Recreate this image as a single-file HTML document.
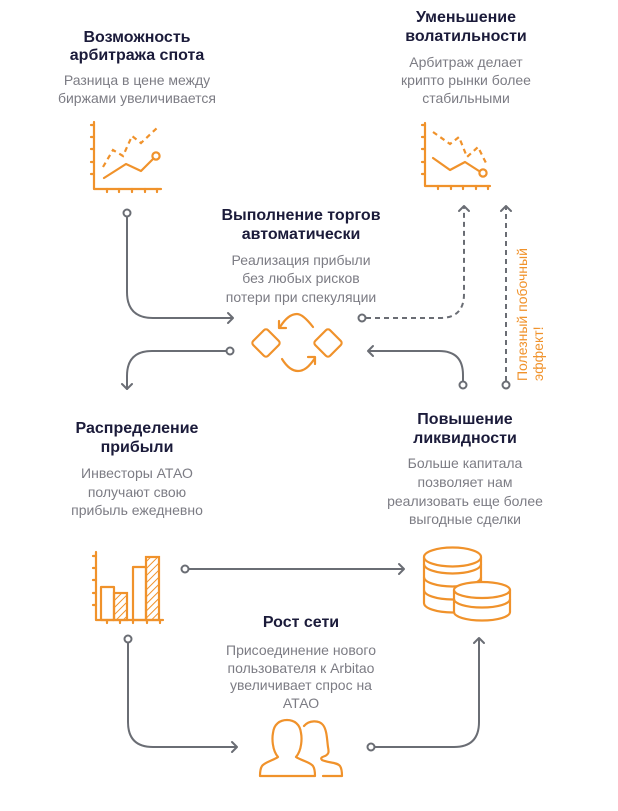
<!DOCTYPE html>
<html>
<head>
<meta charset="utf-8">
<style>
html,body{margin:0;padding:0;background:#fff;}
svg{display:block;}
.t{font-family:"Liberation Sans","Noto Sans CJK SC",sans-serif;font-weight:bold;font-size:16px;fill:#1b1b3a;text-anchor:middle;}
.s{font-family:"Liberation Sans","Noto Sans CJK SC",sans-serif;font-size:14px;fill:#7c7c84;text-anchor:middle;}
.c{fill:none;stroke:#6a6d74;stroke-width:2;stroke-linecap:round;stroke-linejoin:round;}
.d{fill:none;stroke:#6a6d74;stroke-width:2;stroke-dasharray:5 4;}
.dot{fill:#fff;stroke:#6a6d74;stroke-width:2;}
.o{fill:none;stroke:#F0922B;stroke-width:2.2;stroke-linecap:round;stroke-linejoin:round;}
.od{fill:none;stroke:#F0922B;stroke-width:2.2;stroke-dasharray:5 4;}
</style>
</head>
<body>
<svg width="618" height="811" viewBox="0 0 618 811" xmlns="http://www.w3.org/2000/svg">
<defs>
<pattern id="hatch" width="5" height="5" patternUnits="userSpaceOnUse" patternTransform="rotate(45)">
<line x1="0" y1="0" x2="0" y2="5" stroke="#F0922B" stroke-width="2"/>
</pattern>
</defs>

<!-- Text blocks -->
<text class="t" x="137" y="42">Возможность</text>
<text class="t" x="137" y="60">арбитража спота</text>
<text class="s" x="137" y="85">Разница в цене между</text>
<text class="s" x="137" y="103">биржами увеличивается</text>

<text class="t" x="466" y="22">Уменьшение</text>
<text class="t" x="466" y="41">волатильности</text>
<text class="s" x="466" y="67">Арбитраж делает</text>
<text class="s" x="466" y="85">крипто рынки более</text>
<text class="s" x="466" y="103">стабильными</text>

<text class="t" x="301" y="220">Выполнение торгов</text>
<text class="t" x="301" y="239">автоматически</text>
<text class="s" x="301" y="265">Реализация прибыли</text>
<text class="s" x="301" y="283">без любых рисков</text>
<text class="s" x="301" y="302">потери при спекуляции</text>

<text class="t" x="137" y="433">Распределение</text>
<text class="t" x="137" y="452">прибыли</text>
<text class="s" x="137" y="478">Инвесторы АТАО</text>
<text class="s" x="137" y="497">получают свою</text>
<text class="s" x="137" y="515">прибыль ежедневно</text>

<text class="t" x="465" y="424">Повышение</text>
<text class="t" x="465" y="443">ликвидности</text>
<text class="s" x="465" y="468">Больше капитала</text>
<text class="s" x="465" y="487">позволяет нам</text>
<text class="s" x="465" y="506">реализовать еще более</text>
<text class="s" x="465" y="524">выгодные сделки</text>

<text class="t" x="301" y="627">Рост сети</text>
<text class="s" x="301" y="655">Присоединение нового</text>
<text class="s" x="301" y="673">пользователя к Arbitao</text>
<text class="s" x="301" y="690">увеличивает спрос на</text>
<text class="s" x="301" y="708">АТАО</text>

<!-- rotated orange text -->
<text transform="translate(527,381) rotate(-90)" style="font-family:'Liberation Sans',sans-serif;font-size:14px;fill:#F0922B;"><tspan x="0" y="0">Полезный побочный</tspan><tspan x="0" y="16">эффект!</tspan></text>

<!-- Top-left chart -->
<path class="o" d="M94,122 V189 H161"/>
<path class="o" d="M91,125 H94 M91,137 H94 M91,149 H94 M91,162 H94 M91,174 H94"/>
<path class="o" d="M107,189 V192 M119,189 V192 M132,189 V192 M145,189 V192 M157,189 V192"/>
<path class="od" d="M103,167 L113,150 L123,156 L132,136 L141,143 L157,128"/>
<path class="o" d="M104,178 L126,164 L141,171 L153,159"/>
<circle cx="156" cy="156" r="3.6" fill="#fff" stroke="#F0922B" stroke-width="2.2"/>

<!-- Top-right chart -->
<path class="o" d="M425,123 V186 H490"/>
<path class="o" d="M422,125 H425 M422,137 H425 M422,149 H425 M422,162 H425 M422,174 H425"/>
<path class="o" d="M438,186 V189 M451,186 V189 M463,186 V189 M476,186 V189 M488,186 V189"/>
<path class="od" d="M433,132 L450,144 L459,137 L467,157 L478,147 L486,163"/>
<path class="o" d="M433,158 L450,170 L465,162 L479,171"/>
<circle cx="483" cy="173" r="3.6" fill="#fff" stroke="#F0922B" stroke-width="2.2"/>

<!-- Cycle icon -->
<rect x="-10.5" y="-10.5" width="21" height="21" rx="3" class="o" transform="translate(266,343) rotate(45)"/>
<rect x="-10.5" y="-10.5" width="21" height="21" rx="3" class="o" transform="translate(328,343) rotate(45)"/>
<path class="o" d="M313,327 C306,318 301,314 297,314 C291,314 285,319 280,327"/>
<path class="o" d="M279,321 V328 H286"/>
<path class="o" d="M282,359 C287,367 292,371 298,371 C304,371 309,367 315,358"/>
<path class="o" d="M308,357 H315 V364"/>

<!-- Bar chart -->
<path class="o" d="M96,552 V620 H163"/>
<path class="o" d="M93,556 H96 M93,568 H96 M93,580 H96 M93,593 H96 M93,605 H96"/>
<path class="o" d="M107,620 V623 M120,620 V623 M133,620 V623 M147,620 V623 M160,620 V623"/>
<rect x="101" y="587" width="13" height="33" class="o"/>
<rect x="114" y="593" width="13" height="27" fill="url(#hatch)" stroke="#F0922B" stroke-width="2.2"/>
<rect x="133" y="567" width="13" height="53" class="o"/>
<rect x="146" y="557" width="13" height="63" fill="url(#hatch)" stroke="#F0922B" stroke-width="2.2"/>

<!-- Coins -->
<g stroke="#F0922B" stroke-width="2.2" fill="#fff">
<path d="M424,557 V603 A28.5,9.5 0 0 0 481,603 V557"/>
<ellipse cx="452.5" cy="557" rx="28.5" ry="9.5"/>
<path d="M424,564 A28.5,9.5 0 0 0 481,564" fill="none"/>
<path d="M424,577 A28.5,9.5 0 0 0 481,577" fill="none"/>
<path d="M424,590 A28.5,9.5 0 0 0 481,590" fill="none"/>
<path d="M454,590 V612 A28,8.5 0 0 0 510,612 V590"/>
<ellipse cx="482" cy="590" rx="28" ry="8"/>
<path d="M454,599 A28,8.5 0 0 0 510,599" fill="none"/>
</g>

<!-- People -->
<path class="o" d="M304,726 C309,720 319,720 323,725 C327,730 327,740 328,747 C329,752 329,754 325,756 C322,757 320,758 322,760 C328,763 337,762 340,766 C342,769 342,773 342,776 H323"/>
<path d="M278,757 C272,750 272,738 273,733 C274,724 280,720 287,720 C294,720 300,724 301,733 C302,738 302,750 296,757 C300,760 310,762 313,766 C315,769 315,773 315,776 H260 C260,773 260,769 262,766 C265,762 274,760 278,757 Z" fill="#fff" stroke="#F0922B" stroke-width="2.2" stroke-linejoin="round"/>

<!-- Connectors -->
<path class="c" d="M127,217 V292 Q127,318 153,318 H232"/>
<path class="c" d="M228,313 L233,318 L228,323"/>
<circle class="dot" cx="127" cy="213" r="3.5"/>

<path class="c" d="M226,351 H152 Q127,351 127,376 V389"/>
<path class="c" d="M122,384 L127,389 L132,384"/>
<circle class="dot" cx="230" cy="351" r="3.5"/>

<path class="d" d="M366,318 H440 Q464,318 464,294 V207"/>
<path class="c" d="M459,211 L464,206 L469,211"/>
<circle class="dot" cx="362" cy="318" r="3.5"/>

<path class="c" d="M463,381 V375 Q463,351 439,351 H369"/>
<path class="c" d="M373,346 L368,351 L373,356"/>
<circle class="dot" cx="463" cy="385" r="3.5"/>

<path class="d" d="M506,381 V207"/>
<path class="c" d="M501,211 L506,206 L511,211"/>
<circle class="dot" cx="506" cy="385" r="3.5"/>

<path class="c" d="M189,569 H403"/>
<path class="c" d="M399,564 L404,569 L399,574"/>
<circle class="dot" cx="185" cy="569" r="3.5"/>

<path class="c" d="M128,643 V722 Q128,747 153,747 H236"/>
<path class="c" d="M232,742 L237,747 L232,752"/>
<circle class="dot" cx="128" cy="639" r="3.5"/>

<path class="c" d="M375,747 H454 Q479,747 479,722 V639"/>
<path class="c" d="M474,643 L479,638 L484,643"/>
<circle class="dot" cx="371" cy="747" r="3.5"/>
</svg>
</body>
</html>
